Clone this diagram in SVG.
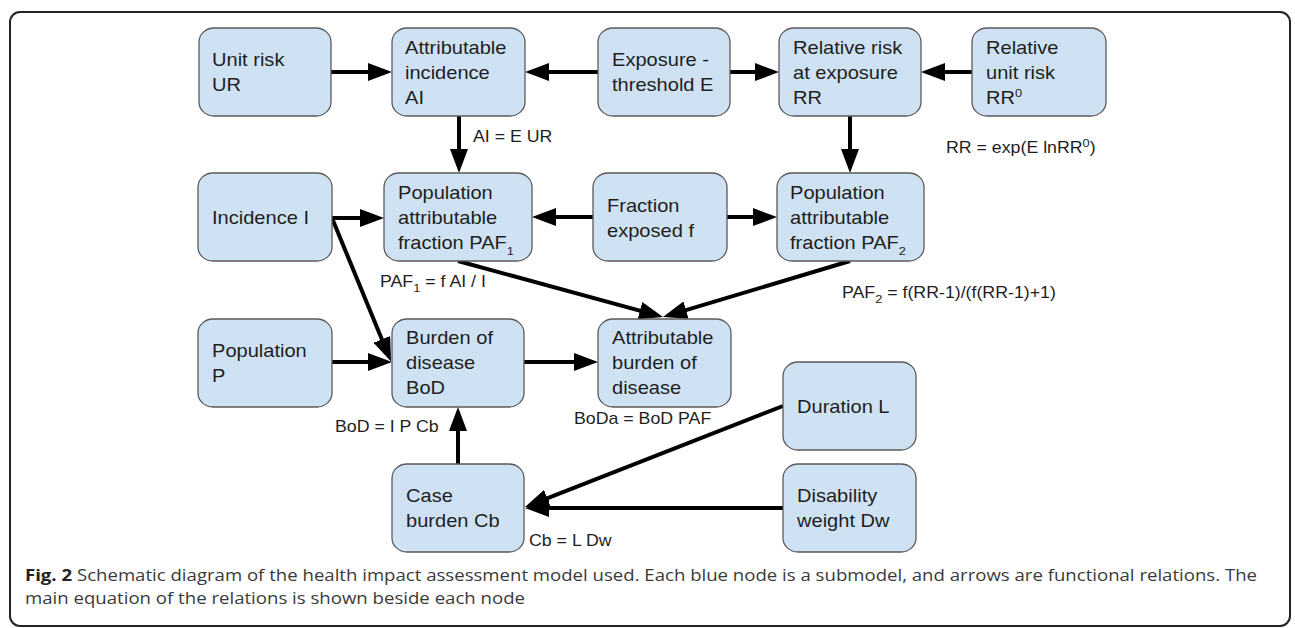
<svg xmlns="http://www.w3.org/2000/svg" width="1295" height="628" viewBox="0 0 1295 628">
<style>
.nd{fill:#cfe2f3;stroke:#5a5a5a;stroke-width:1.3}
.n{font-family:"Liberation Sans",Arial,sans-serif;font-size:18px;fill:#1e1e1e}
.eq{font-family:"Liberation Sans",Arial,sans-serif;font-size:16px;fill:#1e1e1e}
.sub{font-size:11.5px}
.c{stroke:#000;stroke-width:4;fill:none;marker-end:url(#ah)}
.cap{font-family:"Open Sans","Noto Sans",sans-serif;font-size:15.5px;fill:#3a3a3a}
</style>
<defs>
<marker id="ah" viewBox="0 0 24 18" refX="14" refY="9" markerWidth="24" markerHeight="18" markerUnits="userSpaceOnUse" orient="auto">
<path d="M0,0 L24,9 L0,18 z" fill="#000"/>
</marker>
</defs>
<rect x="10" y="12" width="1280" height="614" rx="10" ry="10" fill="#fff" stroke="#222" stroke-width="2"/>

<g id="connectors">
<line class="c" x1="331" y1="72" x2="382" y2="72"/>
<line class="c" x1="598" y1="72" x2="535" y2="72"/>
<line class="c" x1="730" y1="72" x2="769" y2="72"/>
<line class="c" x1="972" y1="72" x2="931" y2="72"/>
<line class="c" x1="459" y1="116" x2="459" y2="163"/>
<line class="c" x1="850" y1="116" x2="850" y2="163"/>
<line class="c" x1="332" y1="218" x2="374" y2="218"/>
<line class="c" x1="593" y1="217" x2="542" y2="217"/>
<line class="c" x1="727" y1="217" x2="767" y2="217"/>
<line class="c" x1="332" y1="218" x2="387.2" y2="352.3"/>
<line class="c" x1="458" y1="261" x2="653.4" y2="314.4"/>
<line class="c" x1="850" y1="261" x2="672.6" y2="314.1"/>
<line class="c" x1="332" y1="362" x2="382" y2="362"/>
<line class="c" x1="524" y1="362" x2="588" y2="362"/>
<line class="c" x1="458" y1="464" x2="458" y2="417"/>
<line class="c" x1="783" y1="406" x2="534.3" y2="503.4"/>
<line class="c" x1="783" y1="508" x2="535" y2="508"/>
</g>

<g id="node-ur">
<rect class="nd" x="199" y="28" width="132" height="88" rx="15" ry="14"/>
<text class="n" transform="translate(212 0) scale(1.115 1)"><tspan x="0" y="66">Unit risk</tspan><tspan x="0" y="91">UR</tspan></text>
</g>
<g id="node-ai">
<rect class="nd" x="392" y="28" width="133" height="88" rx="15" ry="14"/>
<text class="n" transform="translate(405 0) scale(1.115 1)"><tspan x="0" y="54">Attributable</tspan><tspan x="0" y="79">incidence</tspan><tspan x="0" y="104">AI</tspan></text>
</g>
<g id="node-e">
<rect class="nd" x="598" y="28" width="132" height="88" rx="15" ry="14"/>
<text class="n" transform="translate(612 0) scale(1.115 1)"><tspan x="0" y="66">Exposure -</tspan><tspan x="0" y="91">threshold E</tspan></text>
</g>
<g id="node-rr">
<rect class="nd" x="779" y="28" width="142" height="88" rx="15" ry="14"/>
<text class="n" transform="translate(793 0) scale(1.115 1)"><tspan x="0" y="54">Relative risk</tspan><tspan x="0" y="79">at exposure</tspan><tspan x="0" y="104">RR</tspan></text>
</g>
<g id="node-rr0">
<rect class="nd" x="972" y="28" width="134" height="88" rx="15" ry="14"/>
<text class="n" transform="translate(986 0) scale(1.115 1)"><tspan x="0" y="54">Relative</tspan><tspan x="0" y="79">unit risk</tspan><tspan x="0" y="104">RR</tspan><tspan class="sub" dy="-7">0</tspan></text>
</g>

<g id="node-i">
<rect class="nd" x="198" y="173" width="134" height="88" rx="15" ry="14"/>
<text class="n" transform="translate(212 0) scale(1.115 1)"><tspan x="0" y="224">Incidence I</tspan></text>
</g>
<g id="node-paf1">
<rect class="nd" x="384" y="173" width="148" height="88" rx="15" ry="14"/>
<text class="n" transform="translate(398 0) scale(1.115 1)"><tspan x="0" y="199">Population</tspan><tspan x="0" y="224">attributable</tspan><tspan x="0" y="249">fraction PAF</tspan><tspan class="sub" dy="6">1</tspan></text>
</g>
<g id="node-f">
<rect class="nd" x="593" y="173" width="134" height="88" rx="15" ry="14"/>
<text class="n" transform="translate(607 0) scale(1.115 1)"><tspan x="0" y="212">Fraction</tspan><tspan x="0" y="237">exposed f</tspan></text>
</g>
<g id="node-paf2">
<rect class="nd" x="777" y="173" width="147" height="88" rx="15" ry="14"/>
<text class="n" transform="translate(790 0) scale(1.115 1)"><tspan x="0" y="199">Population</tspan><tspan x="0" y="224">attributable</tspan><tspan x="0" y="249">fraction PAF</tspan><tspan class="sub" dy="6">2</tspan></text>
</g>

<g id="node-p">
<rect class="nd" x="198" y="319" width="134" height="88" rx="15" ry="14"/>
<text class="n" transform="translate(212 0) scale(1.115 1)"><tspan x="0" y="357">Population</tspan><tspan x="0" y="382">P</tspan></text>
</g>
<g id="node-bod">
<rect class="nd" x="392" y="319" width="132" height="88" rx="15" ry="14"/>
<text class="n" transform="translate(406 0) scale(1.115 1)"><tspan x="0" y="344">Burden of</tspan><tspan x="0" y="369">disease</tspan><tspan x="0" y="394">BoD</tspan></text>
</g>
<g id="node-abod">
<rect class="nd" x="598" y="319" width="133" height="88" rx="15" ry="14"/>
<text class="n" transform="translate(612 0) scale(1.115 1)"><tspan x="0" y="344">Attributable</tspan><tspan x="0" y="369">burden of</tspan><tspan x="0" y="394">disease</tspan></text>
</g>
<g id="node-l">
<rect class="nd" x="783" y="362" width="133" height="88" rx="15" ry="14"/>
<text class="n" transform="translate(797 0) scale(1.115 1)"><tspan x="0" y="413">Duration L</tspan></text>
</g>
<g id="node-cb">
<rect class="nd" x="392" y="464" width="132" height="88" rx="15" ry="14"/>
<text class="n" transform="translate(406 0) scale(1.115 1)"><tspan x="0" y="502">Case</tspan><tspan x="0" y="527">burden Cb</tspan></text>
</g>
<g id="node-dw">
<rect class="nd" x="783" y="464" width="133" height="88" rx="15" ry="14"/>
<text class="n" transform="translate(797 0) scale(1.115 1)"><tspan x="0" y="502">Disability</tspan><tspan x="0" y="527">weight Dw</tspan></text>
</g>

<g id="equations">
<text class="eq" transform="translate(473 0) scale(1.11 1)" x="0" y="142">AI = E UR</text>
<text class="eq" transform="translate(946 0) scale(1.11 1)" x="0" y="153">RR = exp(E lnRR<tspan class="sub" dy="-6">0</tspan><tspan dy="6">)</tspan></text>
<text class="eq" transform="translate(380 0) scale(1.11 1)" x="0" y="287">PAF<tspan class="sub" dy="5">1</tspan><tspan dy="-5"> = f AI / I</tspan></text>
<text class="eq" transform="translate(842 0) scale(1.11 1)" x="0" y="298">PAF<tspan class="sub" dy="5">2</tspan><tspan dy="-5"> = f(RR-1)/(f(RR-1)+1)</tspan></text>
<text class="eq" transform="translate(335 0) scale(1.11 1)" x="0" y="432">BoD = I P Cb</text>
<text class="eq" transform="translate(574 0) scale(1.11 1)" x="0" y="424">BoDa = BoD PAF</text>
<text class="eq" transform="translate(529 0) scale(1.11 1)" x="0" y="546">Cb = L Dw</text>
</g>

<g id="caption">
<text class="cap" x="25" y="581" textLength="1232" lengthAdjust="spacingAndGlyphs"><tspan font-weight="bold" fill="#222">Fig. 2</tspan> Schematic diagram of the health impact assessment model used. Each blue node is a submodel, and arrows are functional relations. The</text>
<text class="cap" x="25" y="604" textLength="500" lengthAdjust="spacingAndGlyphs">main equation of the relations is shown beside each node</text>
</g>
</svg>
